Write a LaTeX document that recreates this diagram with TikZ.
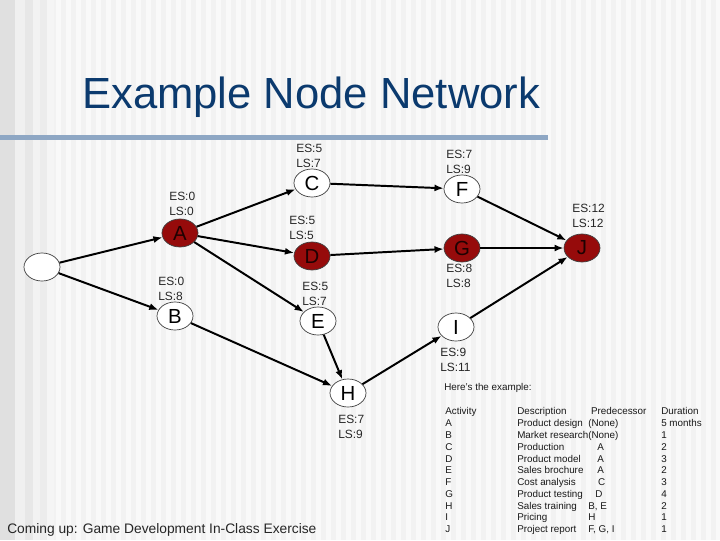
\documentclass[tikz,border=0pt]{standalone}
\usepackage{fontspec}
\setmainfont{Liberation Sans}
\usepackage{xcolor}
\usepackage{tikz}
\usetikzlibrary{arrows.meta, positioning, shapes.geometric}
\definecolor{ktitle}{HTML}{0B3A6E}
\definecolor{kbar}{HTML}{8EA7C4}
\definecolor{kcrit}{HTML}{960B0B}
\definecolor{kback}{HTML}{F2F2F2}

\begin{document}
\begin{tikzpicture}[x=0.025cm, y=-0.025cm,
  act/.style={ellipse, draw=black!75, line width=0.5pt, fill=white, minimum width=0.9cm,
    minimum height=0.7cm, inner sep=0pt, font=\fontsize{14.5}{14.5}\selectfont},
  crit/.style={act, fill=kcrit, text=black!80!kcrit},
  times/.style={font=\fontsize{8.5}{10.6}\selectfont, align=left, anchor=west, inner sep=0pt, text=black!85},
  tab/.style={font=\fontsize{7}{8.37}\selectfont, align=left, anchor=north west, inner sep=0pt, text=black!90},
  link/.style={-{Latex[length=6.5pt, width=5pt]}, line width=1.4pt}]
\useasboundingbox (0,0) rectangle (720,540);
% background
\fill[kback] (0,0) rectangle (720,540);
\foreach \s in {56,66,...,716} \fill[white!55!kback] (\s,0) rectangle ++(5,540);
\fill[gray!24] (0,0) rectangle (15,540);
\fill[gray!12] (15,0) rectangle (25,540);
\fill[gray!19] (25,0) rectangle (33,540);
\fill[gray!10] (33,0) rectangle (40,540);
\fill[gray!15] (40,0) rectangle (47,540);
\fill[gray!8] (47,0) rectangle (54,540);
% title
\node[anchor=base west, inner sep=0pt, font=\fontsize{31}{31}\selectfont, text=ktitle]
  (title) at (82,108) {Example Node Network};
\fill[kbar] (0,135) rectangle (548,140);
% activities
\node[act] (start) at (42,267) {};
\node[crit] (a) at (180,233) {A};
\node[act] (b) at (175,316) {B};
\node[act] (c) at (312,183) {C};
\node[crit] (d) at (312,256) {D};
\node[act] (e) at (318,321) {E};
\node[act] (f) at (462,189) {F};
\node[crit] (g) at (462,248) {G};
\node[crit] (j) at (582,248) {J};
\node[act] (i) at (456,327) {I};
\node[act] (h) at (348,393) {H};
% start times
\node[times] (ta) at (169,204) {ES:0\\LS:0};
\node[times] (tb) at (158,288.5) {ES:0\\LS:8};
\node[times] (tc) at (296,155.5) {ES:5\\LS:7};
\node[times] (td) at (289,227.5) {ES:5\\LS:5};
\node[times] (te) at (302,293.5) {ES:5\\LS:7};
\node[times] (tf) at (446,161.5) {ES:7\\LS:9};
\node[times] (tj) at (572,215.5) {ES:12\\LS:12};
\node[times] (tg) at (446,275.5) {ES:8\\LS:8};
\node[times] (ti) at (440,359.5) {ES:9\\LS:11};
\node[times] (th) at (338,426.5) {ES:7\\LS:9};
% precedences
\draw[link] (start) -- (a);
\draw[link] (start) -- (b);
\draw[link] (a) -- (c);
\draw[link] (a) -- (d);
\draw[link] (a) -- (e);
\draw[link] (b) -- (h);
\draw[link] (c) -- (f);
\draw[link] (d) -- (g);
\draw[link] (e) -- (h);
\draw[link] (h) -- (i);
\draw[link] (f) -- (j);
\draw[link] (g) -- (j);
\draw[link] (i) -- (j);
% activity list
\node[anchor=base west, inner sep=0pt, font=\fontsize{7}{8.37}\selectfont, text=black!90]
  (intro) at (444,390.5) {Here's the example:};
\node[tab] (colact) at (445,407.5) {Activity\\A\\B\\C\\D\\E\\F\\G\\H\\I\\J};
\node[tab] (coldesc) at (517,407.5) {Description\\Product design\\Market research\\Production\\Product model\\Sales brochure\\Cost analysis\\Product testing\\Sales training\\Pricing\\Project report};
\node[tab] (colpred) at (588,407.5) {\hspace{2pt}Predecessor\\(None)\\(None)\\\hspace{6.5pt}A\\\hspace{6.5pt}A\\\hspace{6.5pt}A\\\hspace{7pt}C\\\hspace{5pt}D\\B, E\\H\\F, G, I};
\node[tab] (coldur) at (661,407.5) {Duration\\5 months\\1\\2\\3\\2\\3\\4\\2\\1\\1};
\node[anchor=base west, inner sep=0pt, font=\fontsize{9.8}{11}\selectfont, text=black!85]
  (next) at (7,533) {Coming up: Game Development In-Class Exercise};
\end{tikzpicture}
\end{document}
